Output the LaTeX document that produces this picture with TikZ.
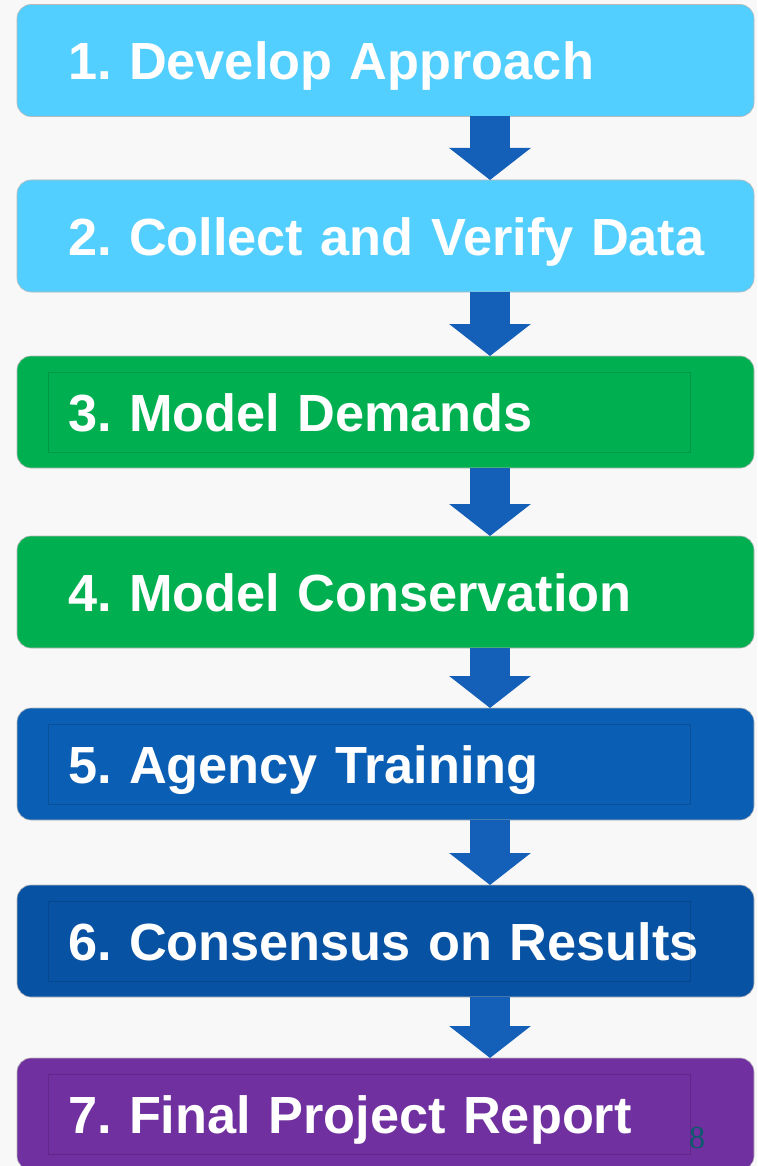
\documentclass[tikz,border=0pt]{standalone}
\usepackage{fontspec}
\setmainfont{Liberation Sans}
\newfontfamily\pagefont{Liberation Serif}
\usetikzlibrary{arrows.meta, positioning}

\definecolor{pagebg}{RGB}{248,248,248}
\definecolor{stepcyan}{RGB}{82,206,255}
\definecolor{stepgreen}{RGB}{0,176,80}
\definecolor{stepblue}{RGB}{10,94,180}
\definecolor{stepnavy}{RGB}{8,82,164}
\definecolor{steppurple}{RGB}{112,48,160}
\definecolor{arrowblue}{RGB}{20,96,184}
\definecolor{pageteal}{RGB}{12,90,108}

\tikzset{
	stepbox/.style={draw=gray!55, line width=0.6pt, rounded corners=14pt,
		minimum width=737pt, minimum height=112pt, text width=737pt,
		inner xsep=0pt, inner ysep=0pt, outer sep=0pt, align=left,
		text height=38pt, text depth=0pt, text=white,
		execute at begin node={\leftskip=51pt\frenchspacing},
		font=\fontsize{52.3}{60}\selectfont\bfseries},
	bevel/.style={draw=black, opacity=0.14, line width=1pt},
	steparrow/.style={draw=arrowblue, line width=40pt,
		-{Triangle[width=80pt,length=32pt]}}
}

\begin{document}
\begin{tikzpicture}[x=1pt, y=-1pt]
			\useasboundingbox[fill=pagebg] (0,0) rectangle (757,1166);
			\node[stepbox, fill=stepcyan] (b1) at (385.5,60.5) {1. Develop Approach};
			\node[stepbox, fill=stepcyan, below=63.5pt of b1] (b2) {2. Collect and Verify Data};
			\node[stepbox, fill=stepgreen, below=64pt of b2] (b3) {3. Model Demands};
			\node[stepbox, fill=stepgreen, below=68pt of b3] (b4) {4. Model Conservation};
			\node[stepbox, fill=stepblue, below=60pt of b4] (b5) {5. Agency Training};
			\node[stepbox, fill=stepnavy, below=65pt of b5] (b6) {6. Consensus on Results};
			\node[stepbox, fill=steppurple, below=61pt of b6] (b7) {7. Final Project Report};
			\foreach \n in {b3,b5,b6,b7}
			\draw[bevel] ([xshift=31pt,yshift=-16pt]\n.north west) rectangle ([xshift=-64pt,yshift=16pt]\n.south east);
			\foreach \a/\b in {b1/b2, b2/b3, b3/b4, b4/b5, b5/b6, b6/b7}
			\draw[steparrow] ([xshift=104.5pt]\a.south) -- ([xshift=104.5pt]\b.north);
			\node[anchor=base, text=pageteal, font=\pagefont\fontsize{32}{32}\selectfont] (pg) at (697,1148) {8};
		\end{tikzpicture}
\end{document}
